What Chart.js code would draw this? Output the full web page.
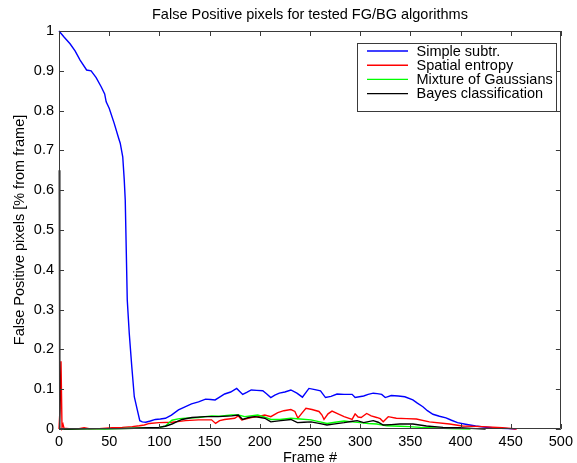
<!DOCTYPE html>
<html>
<head>
<meta charset="utf-8">
<script src="https://cdn.jsdelivr.net/npm/chart.js@4/dist/chart.umd.min.js"></script>
<style>
  html, body { margin: 0; padding: 0; background: #fff; }
  #wrap { width: 577px; height: 463px; }
</style>
</head>
<body>
<div id="wrap"><canvas id="c" width="577" height="463"></canvas></div>
<script>
const chartTitle = 'False Positive pixels for tested FG/BG algorithms';
const xTitle = 'Frame #';
const yTitle = 'False Positive pixels [% from frame]';
const seriesNames = ['Simple subtr.', 'Spatial entropy', 'Mixture of Gaussians', 'Bayes classification'];
const seriesColors = ['#0000ff', '#ff0000', '#00ff00', '#000000'];

const xTickValues = [0, 50, 100, 150, 200, 250, 300, 350, 400, 450, 500];
const xTickLabels = ['0', '50', '100', '150', '200', '250', '300', '350', '400', '450', '500'];
const yTickValues = [0, 0.1, 0.2, 0.3, 0.4, 0.5, 0.6, 0.7, 0.8, 0.9, 1];
const yTickLabels = ['0', '0.1', '0.2', '0.3', '0.4', '0.5', '0.6', '0.7', '0.8', '0.9', '1'];

// Simple subtr.
const simpleFrames = [0, 5, 11, 16, 21, 27.5, 32, 37, 42, 45.5, 47, 50, 55, 59.5, 61, 63.5, 65, 66, 67, 68,
  70, 72.5, 75, 78, 80.5, 83, 86.5, 91, 96, 101, 106, 112, 119, 125, 132, 139, 146, 151, 155.5, 160,
  165, 171, 177, 183, 187, 191.5, 197, 203, 207, 211, 215, 219.5, 225, 231, 237, 242.5, 249, 255, 260.5, 265.5,
  271, 277, 284, 292, 295, 303.5, 308, 313, 317, 321.5, 325, 331, 338, 344.5, 352.5, 357, 362.5, 367, 372.5, 379,
  385.5, 391, 397, 405, 415, 423, 431.5, 440, 448, 455];
const simpleValues = [1.0, 0.985, 0.968, 0.95, 0.927, 0.902, 0.90, 0.883, 0.86, 0.842, 0.822, 0.806, 0.768, 0.73, 0.718, 0.684, 0.626, 0.575, 0.45, 0.324,
  0.24, 0.157, 0.081, 0.048, 0.021, 0.018, 0.017, 0.020, 0.024, 0.025, 0.027, 0.035, 0.048, 0.055, 0.063, 0.068, 0.075, 0.074, 0.073, 0.080,
  0.088, 0.093, 0.102, 0.087, 0.092, 0.098, 0.097, 0.096, 0.088, 0.079, 0.085, 0.090, 0.093, 0.098, 0.090, 0.080, 0.102, 0.099, 0.096, 0.079,
  0.082, 0.088, 0.087, 0.087, 0.079, 0.083, 0.087, 0.090, 0.089, 0.087, 0.079, 0.084, 0.083, 0.081, 0.073, 0.065, 0.056, 0.046, 0.037, 0.032,
  0.028, 0.022, 0.016, 0.012, 0.0075, 0.005, 0.003, 0.002, 0.001, 0];

// Spatial entropy
const entropyFrames = [0, 1, 2, 3, 4, 5, 10, 20, 25, 30, 40, 53, 63, 73, 80, 85, 90, 99.5, 112.5, 126,
  139, 152, 156, 160, 165, 175, 178.5, 182, 191.5, 198, 205, 211, 218, 224, 231, 235, 238, 242, 246, 252,
  259, 262, 264, 268, 272, 278, 284, 292, 295, 298, 301, 306.5, 311, 316.5, 320, 323, 328, 336, 346, 356,
  369, 389, 402, 422, 441.5, 456];
const entropyValues = [0, 0.05, 0.17, 0.004, 0.012, 0.002, 0.001, 0.001, 0.003, 0.001, 0.001, 0.003, 0.004, 0.006, 0.008, 0.010, 0.014, 0.016, 0.017, 0.021,
  0.023, 0.023, 0.014, 0.021, 0.024, 0.027, 0.033, 0.023, 0.029, 0.031, 0.035, 0.031, 0.041, 0.046, 0.049, 0.044, 0.027, 0.040, 0.052, 0.049,
  0.044, 0.035, 0.024, 0.038, 0.045, 0.038, 0.031, 0.024, 0.038, 0.030, 0.029, 0.039, 0.033, 0.029, 0.026, 0.018, 0.031, 0.027, 0.026, 0.025,
  0.018, 0.0125, 0.0075, 0.006, 0.003, 0];

// Mixture of Gaussians
const mogFrames = [0, 10, 30, 45, 60, 75, 90, 100, 106, 112.5, 120, 126, 139, 152, 160, 172, 178.5, 185, 198, 205,
  211, 220, 231, 240, 251, 260, 267, 275, 284, 292, 300, 308, 316.5, 326.5, 340, 349, 360, 369, 390, 410];
const mogValues = [0, 0, 0.001, 0, 0.001, 0.002, 0.003, 0.004, 0.0075, 0.022, 0.026, 0.027, 0.029, 0.033, 0.032, 0.035, 0.035, 0.031, 0.035, 0.030,
  0.024, 0.024, 0.027, 0.025, 0.023, 0.018, 0.014, 0.017, 0.020, 0.018, 0.016, 0.014, 0.0125, 0.008, 0.007, 0.006, 0.004, 0.003, 0.001, 0];

// Bayes classification
const bayesFrames = [0.3, 0.6, 0.9, 10, 40, 60, 75, 90, 99.5, 106, 112.5, 117, 122.5, 132.5, 145.5, 158.5, 172, 178.5, 183, 189,
  195, 205, 211, 221, 231, 237.5, 244, 251, 259, 267, 275, 284, 291, 297, 303.5, 313, 318, 323, 331, 339.5,
  352.5, 366, 382.5, 399, 415, 425];
const bayesValues = [0.65, 0.3, 0, 0, 0.001, 0.001, 0.002, 0.003, 0.004, 0.007, 0.0125, 0.018, 0.024, 0.029, 0.031, 0.031, 0.033, 0.035, 0.024, 0.029,
  0.031, 0.027, 0.018, 0.021, 0.024, 0.016, 0.017, 0.018, 0.014, 0.010, 0.013, 0.016, 0.019, 0.021, 0.016, 0.021, 0.017, 0.010, 0.011, 0.0125,
  0.0125, 0.0075, 0.004, 0.003, 0.001, 0];

const seriesFrames = [simpleFrames, entropyFrames, mogFrames, bayesFrames];
const seriesValues = [simpleValues, entropyValues, mogValues, bayesValues];

const FONT = '"Liberation Sans", Arial, Helvetica, sans-serif';
const FS = 14.5;
const AXIS_COLOR = '#3a3a3a';

const datasets = seriesNames.map((name, i) => ({
  label: name,
  data: seriesFrames[i].map((f, j) => ({ x: f, y: seriesValues[i][j] })),
  borderColor: seriesColors[i],
  backgroundColor: seriesColors[i],
  borderWidth: 1.4,
  pointRadius: 0,
  tension: 0,
  fill: false,
  clip: 2,
  order: seriesNames.length - i
}));

const boxPlugin = {
  id: 'matlabBox',
  afterDatasetsDraw(chart) {
    const { ctx, chartArea: a, scales } = chart;
    ctx.save();
    // title centred over the axes
    ctx.fillStyle = '#000';
    ctx.font = FS + 'px ' + FONT;
    ctx.textAlign = 'center';
    ctx.textBaseline = 'middle';
    ctx.fillText(chartTitle, (a.left + a.right) / 2, 14.5);

    ctx.strokeStyle = AXIS_COLOR;
    ctx.lineWidth = 1;
    ctx.beginPath();
    ctx.rect(Math.round(a.left) + 0.5, Math.round(a.top) + 0.5,
             Math.round(a.right - a.left) - 1, Math.round(a.bottom - a.top) - 1);
    ctx.stroke();
    const tl = 5;
    ctx.beginPath();
    xTickValues.forEach(v => {
      const x = Math.round(scales.x.getPixelForValue(v)) + 0.5;
      ctx.moveTo(x, a.bottom); ctx.lineTo(x, a.bottom - tl);
      ctx.moveTo(x, a.top); ctx.lineTo(x, a.top + tl);
    });
    yTickValues.forEach(v => {
      const y = Math.round(scales.y.getPixelForValue(v)) + 0.5;
      ctx.moveTo(a.left, y); ctx.lineTo(a.left + tl, y);
      ctx.moveTo(a.right, y); ctx.lineTo(a.right - tl, y);
    });
    ctx.stroke();

    // legend box inside the axes (upper right)
    const lx = 357.5, ly = 43.5, lw = 199, lh = 68;
    ctx.fillStyle = '#ffffff';
    ctx.fillRect(lx, ly, lw, lh);
    ctx.strokeStyle = AXIS_COLOR;
    ctx.strokeRect(lx, ly, lw, lh);
    ctx.font = FS + 'px ' + FONT;
    ctx.textBaseline = 'middle';
    ctx.textAlign = 'left';
    const rowY = [51, 65.2, 79.4, 93.6];
    seriesNames.forEach((name, i) => {
      const y = rowY[i];
      ctx.strokeStyle = seriesColors[i];
      ctx.lineWidth = 1.4;
      ctx.beginPath();
      ctx.moveTo(367, y); ctx.lineTo(408, y);
      ctx.stroke();
      ctx.fillStyle = '#000';
      ctx.fillText(name, 416.5, y + 0.5);
    });
    ctx.restore();
  }
};

new Chart(document.getElementById('c'), {
  type: 'line',
  data: { datasets },
  plugins: [boxPlugin],
  options: {
    responsive: false,
    animation: false,
    events: [],
    layout: { padding: { left: 0, right: 11, top: 31, bottom: 0 } },
    plugins: {
      legend: { display: false },
      tooltip: { enabled: false },
      title: { display: false }
    },
    scales: {
      x: {
        type: 'linear',
        min: 0, max: 500,
        afterFit: s => { s.height = 34; },
        afterBuildTicks: s => { s.ticks = xTickValues.map(v => ({ value: v })); },
        ticks: {
          autoSkip: false, maxRotation: 0, padding: 4, color: '#000',
          font: { family: FONT, size: FS },
          callback: (v) => xTickLabels[xTickValues.indexOf(v)]
        },
        grid: { display: false, drawTicks: false },
        border: { display: false },
        title: {
          display: true, text: xTitle, color: '#000',
          font: { family: FONT, size: FS },
          padding: { top: 0, bottom: -4 }
        }
      },
      y: {
        type: 'linear',
        min: 0, max: 1,
        afterFit: s => { s.width = 59; },
        afterBuildTicks: s => { s.ticks = yTickValues.map(v => ({ value: v })); },
        ticks: {
          autoSkip: false, padding: 5, color: '#000',
          font: { family: FONT, size: FS },
          callback: (v) => yTickLabels[yTickValues.findIndex(t => Math.abs(t - v) < 1e-9)]
        },
        grid: { display: false, drawTicks: false },
        border: { display: false },
        title: {
          display: true, text: yTitle, color: '#000',
          font: { family: FONT, size: FS },
          padding: { top: 11, bottom: 0 }
        }
      }
    }
  }
});
</script>
</body>
</html>
